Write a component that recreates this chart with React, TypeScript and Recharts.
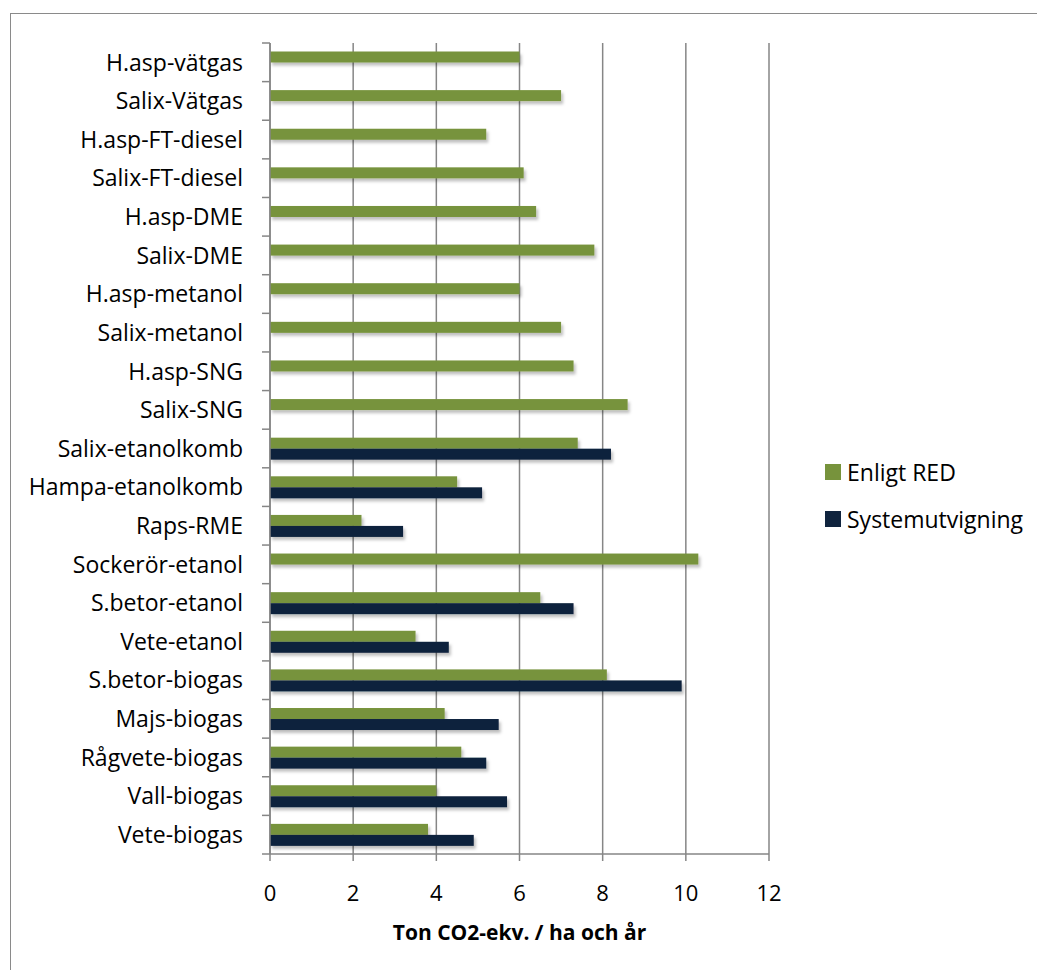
import { BarChart, Bar, XAxis, YAxis, CartesianGrid } from 'recharts';

const categories = [
  'H.asp-vätgas',
  'Salix-Vätgas',
  'H.asp-FT-diesel',
  'Salix-FT-diesel',
  'H.asp-DME',
  'Salix-DME',
  'H.asp-metanol',
  'Salix-metanol',
  'H.asp-SNG',
  'Salix-SNG',
  'Salix-etanolkomb',
  'Hampa-etanolkomb',
  'Raps-RME',
  'Sockerör-etanol',
  'S.betor-etanol',
  'Vete-etanol',
  'S.betor-biogas',
  'Majs-biogas',
  'Rågvete-biogas',
  'Vall-biogas',
  'Vete-biogas',
];

const enligtRed = [6.0, 7.0, 5.2, 6.1, 6.4, 7.8, 6.0, 7.0, 7.3, 8.6, 7.4, 4.5, 2.2, 10.3, 6.5, 3.5, 8.1, 4.2, 4.6, 4.0, 3.8];
const systemutvigning = [null, null, null, null, null, null, null, null, null, null, 8.2, 5.1, 3.2, null, 7.3, 4.3, 9.9, 5.5, 5.2, 5.7, 4.9];

const xTicks = [0, 2, 4, 6, 8, 10, 12];

const GREEN = '#77933C';
const NAVY = '#10243E';
const AXIS = '#868686';
const FONT = '"Open Sans", sans-serif';

const data = categories.map((name, i) => ({
  name,
  red: enligtRed[i],
  sys: systemutvigning[i],
}));

// y-axis labels, with Excel style tick marks on the category boundaries
const CategoryTick = (props: any) => {
  const { x, y, payload, index } = props;
  const half = payload.offset || 19.3;
  return (
    <g>
      <line x1={x - 8} x2={x} y1={y - half} y2={y - half} stroke={AXIS} strokeWidth={1.5} />
      {index === categories.length - 1 && (
        <line x1={x - 8} x2={x} y1={y + half} y2={y + half} stroke={AXIS} strokeWidth={1.5} />
      )}
      <text x={x - 27} y={y} dy="0.36em" textAnchor="end" fontSize={23} fontFamily={FONT} fill="#000">
        {payload.value}
      </text>
    </g>
  );
};

const ShadowBar = (props: any) => {
  const { x, y, width, height, fill } = props;
  if (!width) return null;
  return <rect x={x} y={y} width={width} height={height} fill={fill} filter="url(#barShadow)" />;
};

export default function App() {
  return (
    <div style={{ position: 'absolute', left: 0, top: 0, width: 1037, height: 970, overflow: 'hidden', background: '#fff', fontFamily: FONT }}>
      <svg width={0} height={0} style={{ position: 'absolute' }}>
        <defs>
          <filter id="barShadow" x="-5%" y="-30%" width="115%" height="190%">
            <feDropShadow dx={2} dy={3} stdDeviation={1.5} floodColor="#000" floodOpacity={0.25} />
          </filter>
        </defs>
      </svg>
      <div style={{ position: 'absolute', left: 10, top: 13, width: 1100, height: 1100, border: '1px solid #8a8a8a' }} />
      <div style={{ position: 'absolute', left: 0, top: 0 }}>
        <BarChart
          width={1037}
          height={970}
          data={data}
          layout="vertical"
          margin={{ top: 43, right: 268, bottom: 0, left: 0 }}
          barCategoryGap="22%"
          barGap={0}
        >
          <CartesianGrid horizontal={false} stroke={AXIS} strokeWidth={1.5} />
          <XAxis
            type="number"
            domain={[0, 12]}
            ticks={xTicks}
            height={116}
            axisLine={{ stroke: AXIS, strokeWidth: 1.5 }}
            tickLine={{ stroke: AXIS, strokeWidth: 1.5 }}
            tickSize={7}
            tickMargin={24}
            tick={{ fontSize: 22, fontFamily: FONT, fill: '#000' }}
          />
          <YAxis
            type="category"
            dataKey="name"
            width={270}
            interval={0}
            axisLine={{ stroke: AXIS, strokeWidth: 1.5 }}
            tickLine={false}
            tickSize={0}
            tickMargin={0}
            tick={<CategoryTick />}
          />
          <Bar dataKey="red" fill={GREEN} isAnimationActive={false} shape={<ShadowBar />} />
          <Bar dataKey="sys" fill={NAVY} isAnimationActive={false} shape={<ShadowBar />} />
        </BarChart>
      </div>
      <div style={{ position: 'absolute', left: 270, top: 918, width: 499, textAlign: 'center', fontSize: 21, fontWeight: 700, color: '#000', lineHeight: '28px' }}>
        Ton CO2-ekv. / ha och år
      </div>
      <div style={{ position: 'absolute', left: 825, top: 458, fontSize: 23, color: '#000' }}>
        <div style={{ display: 'flex', alignItems: 'center', height: 28 }}>
          <span style={{ display: 'inline-block', width: 16, height: 16, background: GREEN, marginRight: 6 }} />
          Enligt RED
        </div>
        <div style={{ display: 'flex', alignItems: 'center', height: 28, marginTop: 19 }}>
          <span style={{ display: 'inline-block', width: 16, height: 16, background: NAVY, marginRight: 6 }} />
          Systemutvigning
        </div>
      </div>
    </div>
  );
}
